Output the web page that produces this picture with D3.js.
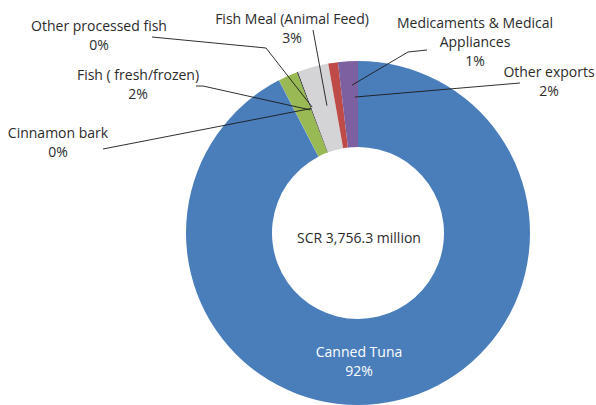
<!DOCTYPE html>
<html><head><meta charset="utf-8">
<script src="https://cdn.jsdelivr.net/npm/d3@7"></script>
<style>html,body{margin:0;padding:0;background:#fff;}svg{display:block;}</style>
</head><body>
<svg id="chart" width="596" height="405"></svg>
<script>
// ---- data ----
const categories = ["Canned Tuna", "Cinnamon bark", "Fish ( fresh/frozen)", "Other processed fish",
  "Fish Meal (Animal Feed)", "Medicaments & Medical Appliances", "Other exports"];
const values = [3470, 1.3, 68, 4, 109, 34, 70]; // SCR million
const currency = "SCR";

// ---- layout / style ----
const W = 596, H = 405;
const cx = 358, cy = 233, outerR = 172, innerR = 86;
const colors = ["#4a7ebb", "#4a7ebb", "#98b954", "#3a3a3a", "#d4d4d6", "#be4b48", "#7d60a0"];
const fontFamily = "'Open Sans', 'Noto Sans', sans-serif";
const fontSize = 14;
const lineH = 19;
// label layout: lines, center x, first baseline y, leader polyline start points, leader end [angleDeg, radius]
const labelLayout = [
  {lines: ["Canned Tuna"], x: 359, y: 357, fill: "#fff"},
  {lines: ["Cinnamon bark"], x: 58, y: 138, leader: [[103,149]], end: [-20.5, 133]},
  {lines: ["Fish ( fresh/frozen)"], x: 138, y: 80, leader: [[196,86],[203,86]], end: [-21.2, 132]},
  {lines: ["Other processed fish"], x: 99, y: 31, leader: [[152,37],[266,48]], end: [-20.0, 134]},
  {lines: ["Fish Meal (Animal Feed)"], x: 292, y: 24, leader: [[313,30]], end: [-13.7, 131]},
  {lines: ["Medicaments & Medical", "Appliances"], x: 475, y: 28, leader: [[427,50],[408,52]], end: [-2.3, 148]},
  {lines: ["Other exports"], x: 549, y: 77, leader: [[520,83]], end: [-1.3, 136]}
];

const total = d3.sum(values);
const pct = d3.format(".0%");

const svg = d3.select("#chart");
const g = svg.append("g").attr("transform", `translate(${cx},${cy})`);

const pie = d3.pie().sort(null).value(d => d)(values);
const arc = d3.arc().innerRadius(innerR).outerRadius(outerR);

g.selectAll("path.slice").data(pie).join("path")
  .attr("class", "slice")
  .attr("d", arc)
  .attr("fill", (d, i) => colors[i]);

// leader lines
const polar = (deg, r) => {
  const a = deg * Math.PI / 180;
  return [cx + r * Math.sin(a), cy - r * Math.cos(a)];
};
const line = d3.line();
labelLayout.forEach((L, i) => {
  if (!L.leader) return;
  const pts = L.leader.concat([polar(L.end[0], L.end[1])]);
  svg.append("path").attr("d", line(pts)).attr("fill", "none")
    .attr("stroke", "#1a1a1a").attr("stroke-width", 0.9);
});

// labels
labelLayout.forEach((L, i) => {
  const t = svg.append("text")
    .attr("text-anchor", "middle")
    .attr("font-family", fontFamily)
    .attr("font-size", fontSize)
    .attr("fill", L.fill || "#2b2b2b");
  const lines = L.lines.concat([pct(values[i] / total)]);
  lines.forEach((s, k) => {
    t.append("tspan").attr("x", L.x).attr("y", L.y + k * lineH).text(s);
  });
});

// center total
svg.append("text")
  .attr("x", cx + 1).attr("y", 243)
  .attr("text-anchor", "middle")
  .attr("font-family", fontFamily)
  .attr("font-size", fontSize)
  .attr("fill", "#2b2b2b")
  .text(`${currency} ${d3.format(",.1f")(total)} million`);
</script>
</body></html>
